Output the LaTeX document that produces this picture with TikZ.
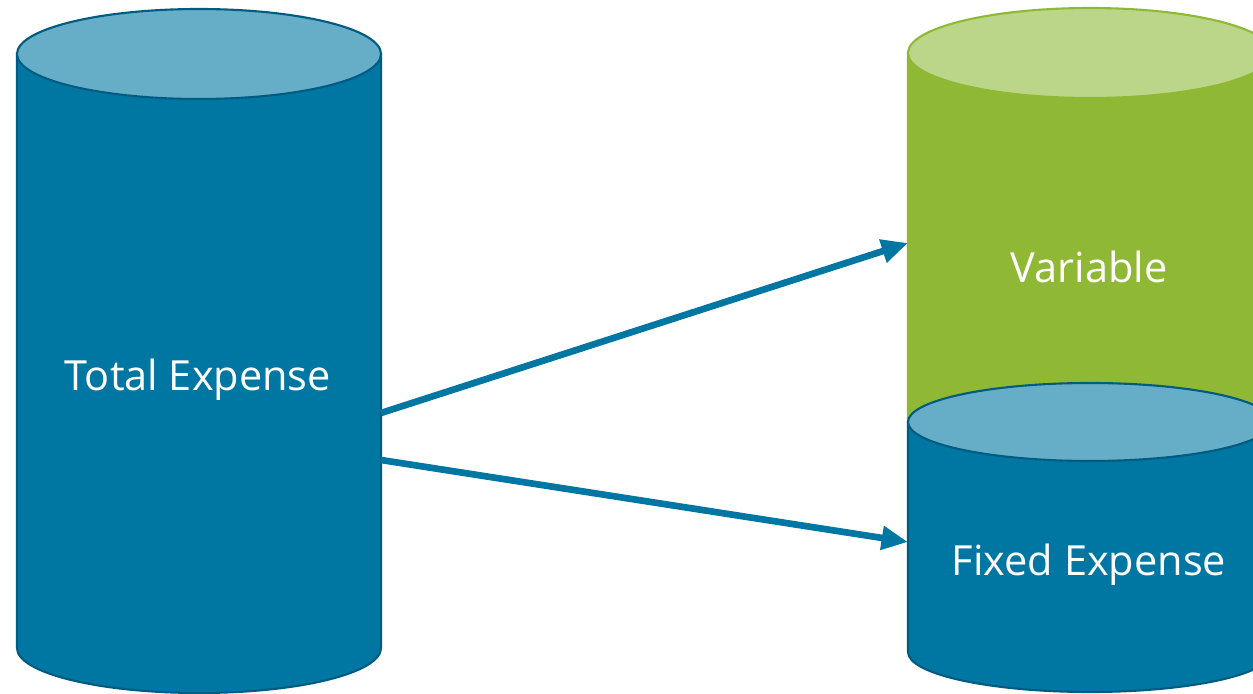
\documentclass[tikz,border=0pt]{standalone}
\usepackage{fontspec}
\setmainfont{Open Sans}
\usetikzlibrary{arrows.meta}

\definecolor{tealbody}{HTML}{0077A3}
\definecolor{tealtop}{HTML}{66AEC8}
\definecolor{tealline}{HTML}{005B80}
\definecolor{greenbody}{HTML}{8FB935}
\definecolor{greentop}{HTML}{BCD689}

\tikzset{
    cyltext/.style={text=white, font=\fontsize{11.8}{14}\selectfont},
    flow/.style={draw=tealbody, line width=1.9pt, -{Triangle[length=7.5pt,width=6.5pt]}}
}

\begin{document}
\begin{tikzpicture}[x=0.01cm,y=-0.01cm]
\useasboundingbox (0,0) rectangle (1253,694);
\clip (0,0) rectangle (1253,694);

% left cylinder
\filldraw[fill=tealbody, draw=tealline, line width=0.6pt] (17,54) -- (17,648) arc (180:360:182 and -45) -- (381,54) -- cycle;
\filldraw[fill=tealtop, draw=tealline, line width=0.6pt] (199,54) ellipse (182 and 45);

% right cylinder, upper part
\filldraw[fill=greenbody, draw=greenbody, line width=0.6pt] (908,53) -- (908,422) arc (180:360:182 and -39) -- (1272,53) -- cycle;
\filldraw[fill=greentop, draw=greenbody, line width=0.6pt] (1090,53) ellipse (182 and 45);

% right cylinder, lower part
\filldraw[fill=tealbody, draw=tealline, line width=0.6pt] (908,422) -- (908,652) arc (180:360:182 and -40) -- (1272,422) -- cycle;
\filldraw[fill=tealtop, draw=tealline, line width=0.6pt] (1090,422) ellipse (182 and 39);

\node[cyltext] (total) at (198,380) {Total Expense};
\node[cyltext] (variable) at (1089,267) {Variable};
\node[cyltext] (fixed) at (1089,565) {Fixed Expense};

\coordinate (out1) at (381,413);
\coordinate (out2) at (381,460);
\coordinate (in1) at (908,243);
\coordinate (in2) at (908,542);

\draw[flow] (out1) -- (in1);
\draw[flow] (out2) -- (in2);
\end{tikzpicture}
\end{document}
